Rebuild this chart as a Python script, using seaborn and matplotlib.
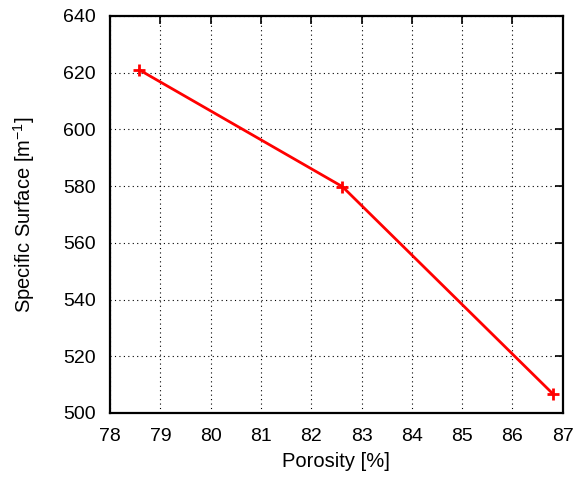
import matplotlib
matplotlib.use("Agg")
import matplotlib.pyplot as plt
import seaborn as sns
import pandas as pd

porosity = [78.58, 82.62, 86.8]
surface = [621.0, 579.8, 506.8]
x_ticks = [78, 79, 80, 81, 82, 83, 84, 85, 86, 87]
y_ticks = [500, 520, 540, 560, 580, 600, 620, 640]

sns.set_theme(style="white")
plt.rcParams['font.family'] = ['Liberation Sans', 'DejaVu Sans']
plt.rcParams['text.color'] = 'black'
plt.rcParams['axes.labelcolor'] = 'black'

df = pd.DataFrame({"Porosity": porosity, "Surface": surface})

fig = plt.figure(figsize=(5.79, 4.83), dpi=100)
ax = fig.add_axes([0.19, 0.145, 0.782, 0.822])
sns.lineplot(data=df, x="Porosity", y="Surface", ax=ax, color="red", linewidth=2,
             marker="+", markersize=8, markeredgewidth=2, markeredgecolor="red")
ax.set_xlim(78, 87)
ax.set_ylim(500, 640)
ax.set_xticks(x_ticks)
ax.set_yticks(y_ticks)
ax.grid(True, color="black", linestyle=(0, (1, 3)), linewidth=0.8)
for s in ax.spines.values():
    s.set_color("black")
    s.set_linewidth(1.6)
ax.tick_params(direction="in", length=6, width=1.2, top=True, right=True,
               labelsize=14, colors="black")
ax.tick_params(axis="x", pad=11)
ax.tick_params(axis="y", pad=10)
ax.set_xlabel("Porosity [%]", fontsize=14.5, labelpad=5, color="black")
ax.set_ylabel("Specific Surface [m$^{\\mathregular{-1}}$]", fontsize=14.5, labelpad=19, color="black")
fig.savefig("out.png", dpi=100)
